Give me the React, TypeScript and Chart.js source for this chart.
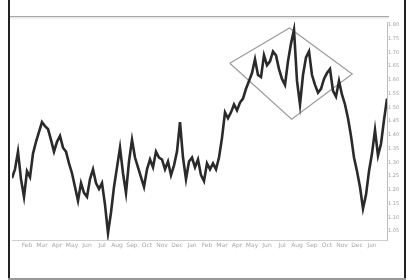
import React, { useEffect, useRef } from "react";
import { Chart, registerables } from "chart.js";

Chart.register(...registerables);

// Price series (one value per trading step)
const PRICES: number[] = [
  68, 77, 95, 67, 49, 75, 69, 93, 105, 115,
  125, 121, 118, 107, 95, 105, 111, 99, 95, 83,
  73, 59, 45, 63, 53, 49, 67, 77, 63, 57,
  63, 41, 12, 33, 59, 79, 99, 73, 53, 85,
  107, 89, 79, 69, 59, 77, 87, 79, 95, 89,
  87, 77, 85, 71, 81, 95, 125, 89, 67, 85,
  89, 79, 87, 71, 65, 83, 77, 83, 77, 89,
  109, 135, 129, 135, 143, 137, 145, 149, 159, 167,
  175, 189, 173, 171, 193, 183, 187, 197, 193, 179,
  169, 163, 187, 205, 219, 167, 143, 173, 191, 197,
  173, 163, 155, 159, 169, 175, 179, 157, 151, 167,
  153, 143, 129, 111, 89, 75, 59, 37, 51, 75,
  93, 117, 91, 103, 127, 149,
];

// Diamond pattern vertices (step index, price)
const DIAMOND_X: number[] = [72.6, 92.5, 113.4, 93.2, 72.6];
const DIAMOND_Y: number[] = [185, 221, 174, 128, 185];

// Axis ticks
const Y_TICKS: number[] = [14, 28, 42, 56, 70, 84, 98, 112, 126, 140, 154, 168, 182, 196, 210, 224];
const Y_LABELS: string[] = ["1.05", "1.10", "1.15", "1.20", "1.25", "1.30", "1.35", "1.40", "1.45", "1.50", "1.55", "1.60", "1.65", "1.70", "1.75", "1.80"];
const X_LABELS: string[] = [
  "", "Feb", "Mar", "Apr", "May", "Jun", "Jul", "Aug", "Sep", "Oct", "Nov", "Dec", "Jan",
  "Feb", "Mar", "Apr", "May", "Jun", "Jul", "Aug", "Sep", "Oct", "Nov", "Dec", "Jan", "",
];

export default function App() {
  const ref = useRef<HTMLCanvasElement | null>(null);

  useEffect(() => {
    if (!ref.current) return;
    const chart = new Chart(ref.current, {
      type: "line",
      data: {
        datasets: [
          {
            data: PRICES.map((v, i) => ({ x: i, y: v })),
            borderColor: "#2a2a2a",
            borderWidth: 2.6,
            pointRadius: 0,
            tension: 0,
          },
          {
            data: DIAMOND_X.map((x, i) => ({ x, y: DIAMOND_Y[i] })),
            borderColor: "#9c9c9c",
            borderWidth: 1.2,
            pointRadius: 0,
            tension: 0,
          },
        ],
      },
      options: {
        animation: false,
        responsive: false,
        layout: { padding: 0 },
        plugins: { legend: { display: false }, tooltip: { enabled: false } },
        scales: {
          x: {
            type: "linear",
            min: 0,
            max: PRICES.length - 1,
            grid: { display: false, drawTicks: false },
            border: { display: true, color: "#d0d0d0" },
            ticks: {
              stepSize: 5,
              autoSkip: false,
              maxRotation: 0,
              align: "inner",
              padding: 2,
              color: "#a8a8a8",
              font: { size: 6, family: "DejaVu Sans" },
              callback: (v: any) => X_LABELS[Math.round(Number(v) / 5)] ?? "",
            },
            afterFit: (s: any) => {
              s.height = 12;
            },
          },
          y: {
            type: "linear",
            position: "right",
            min: 5,
            max: 227,
            grid: { display: false, drawTicks: false },
            border: { display: true, color: "#bdbdbd" },
            afterBuildTicks: (s: any) => {
              s.ticks = Y_TICKS.map((v) => ({ value: v }));
            },
            ticks: {
              padding: 1,
              color: "#a0a0a0",
              font: { size: 5, family: "DejaVu Sans" },
              callback: (_v: any, i: number) => Y_LABELS[i] ?? "",
            },
            afterFit: (s: any) => {
              s.width = 18;
            },
          },
        },
      },
    });
    return () => chart.destroy();
  }, []);

  return (
    <div style={{ position: "fixed", left: 0, top: 0, width: 409, height: 280, background: "#fff", overflow: "hidden" }}>
      <div style={{ position: "absolute", left: 9, top: 16, width: 380, height: 1, background: "#a8a8a8" }} />
      <div style={{ position: "absolute", left: 9, top: 17, width: 380, height: 3, background: "linear-gradient(#e4e4e4, #fff)" }} />
      <canvas
        ref={ref}
        width={395}
        height={234}
        style={{ position: "absolute", left: 10, top: 18, width: 395, height: 234 }}
      />
      <div style={{ position: "absolute", left: 8, top: 0, width: 2, height: 280, background: "#222" }} />
      <div style={{ position: "absolute", left: 404, top: 0, width: 2, height: 280, background: "#222" }} />
      <div style={{ position: "absolute", left: 8, top: 278, width: 398, height: 2, background: "#9a9a9a" }} />
    </div>
  );
}
